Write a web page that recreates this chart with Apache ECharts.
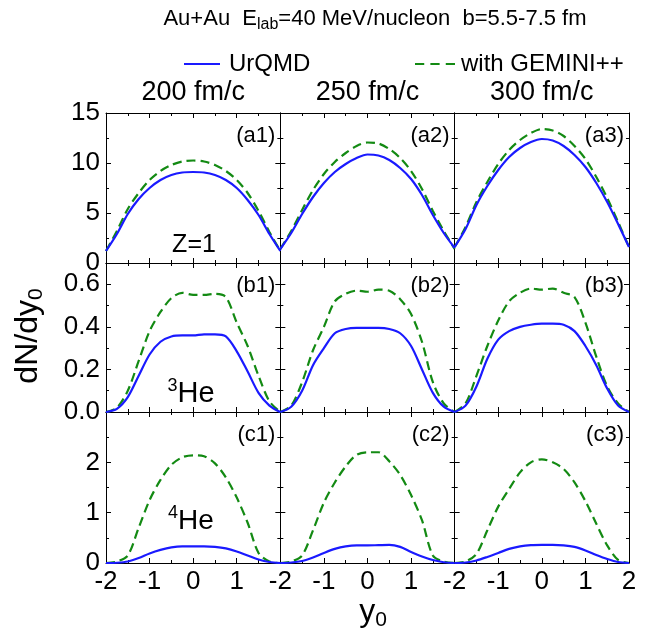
<!DOCTYPE html>
<html><head><meta charset="utf-8">
<script src="https://cdn.jsdelivr.net/npm/echarts@6/dist/echarts.min.js"></script>
<style>html,body{margin:0;padding:0;background:#fff}#c{width:650px;height:634px}</style>
</head><body><div id="c"></div>
<script>
// rapidity y0 sample points
const y0 = [-2,-1.75,-1.5,-1.25,-1,-0.75,-0.5,-0.25,0,0.25,0.5,0.75,1,1.25,1.5,1.75,2];
// Z=1
const urqmdA1  = [1.2,2.9,4.9,6.4,7.5,8.3,8.8,9.05,9.1,9.05,8.8,8.3,7.5,6.3,4.8,2.9,1.2];
const geminiA1 = [1.2,3.2,5.4,7.0,8.3,9.2,9.8,10.15,10.25,10.15,9.8,9.2,8.3,7.0,5.2,3.1,1.2];
const urqmdA2  = [1.4,3.0,4.9,6.6,8.0,9.1,9.9,10.5,10.85,10.75,10.3,9.5,8.4,6.8,4.8,3.0,1.5];
const geminiA2 = [1.4,3.2,5.3,7.3,8.9,10.1,11.0,11.7,12.05,11.95,11.4,10.5,9.2,7.4,5.2,3.2,1.4];
const urqmdA3  = [1.6,3.4,5.8,7.7,9.3,10.6,11.5,12.1,12.4,12.25,11.7,10.8,9.6,8.0,6.1,3.9,1.6];
const geminiA3 = [1.6,3.6,6.1,8.1,9.9,11.3,12.3,13.0,13.4,13.25,12.7,11.7,10.4,8.6,6.5,4.1,1.6];
// 3He
const urqmdB1  = [0,0.015,0.07,0.17,0.27,0.33,0.355,0.36,0.36,0.365,0.365,0.355,0.285,0.19,0.09,0.03,0];
const geminiB1 = [0,0.02,0.1,0.24,0.38,0.47,0.535,0.56,0.55,0.55,0.555,0.54,0.42,0.31,0.17,0.05,0];
const urqmdB2  = [0,0.025,0.1,0.22,0.3,0.37,0.39,0.395,0.395,0.395,0.39,0.37,0.31,0.2,0.09,0.025,0];
const geminiB2 = [0,0.03,0.14,0.29,0.4,0.52,0.555,0.57,0.565,0.575,0.57,0.53,0.46,0.33,0.14,0.04,0];
const urqmdB3  = [0,0.03,0.12,0.25,0.34,0.38,0.4,0.41,0.415,0.415,0.41,0.38,0.31,0.22,0.11,0.03,0];
const geminiB3 = [0,0.04,0.17,0.31,0.43,0.52,0.56,0.58,0.575,0.58,0.56,0.54,0.42,0.26,0.12,0.04,0];
// 4He
const urqmdC1  = [0,0.005,0.03,0.1,0.19,0.26,0.31,0.33,0.33,0.33,0.32,0.29,0.23,0.15,0.07,0.02,0];
const geminiC1 = [0,0.03,0.15,0.7,1.25,1.65,1.95,2.1,2.14,2.12,1.98,1.7,1.3,0.8,0.2,0.03,0];
const urqmdC2  = [0,0.01,0.04,0.11,0.2,0.28,0.33,0.35,0.35,0.355,0.36,0.32,0.22,0.13,0.06,0.015,0];
const geminiC2 = [0,0.03,0.15,0.65,1.2,1.6,1.92,2.15,2.2,2.2,2.02,1.75,1.35,0.85,0.15,0.03,0];
const urqmdC3  = [0,0.01,0.05,0.12,0.2,0.28,0.33,0.355,0.36,0.36,0.35,0.32,0.25,0.16,0.08,0.02,0];
const geminiC3 = [0,0.03,0.18,0.65,1.12,1.47,1.8,2.0,2.06,2.0,1.87,1.6,1.23,0.78,0.35,0.06,0];

const urqmdSets  = [[urqmdA1,urqmdA2,urqmdA3],[urqmdB1,urqmdB2,urqmdB3],[urqmdC1,urqmdC2,urqmdC3]];
const geminiSets = [[geminiA1,geminiA2,geminiA3],[geminiB1,geminiB2,geminiB3],[geminiC1,geminiC2,geminiC3]];

const rowMax = [15, 0.7, 3];
const rowInterval = [5, 0.2, 1];
const yTickLabels = [['0','5','10','15'], ['0.0','0.2','0.4','0.6'], ['0','1','2']];
const xTickLabels = ['-2','-1','0','1','2'];
const columnTitles = ['200 fm/c','250 fm/c','300 fm/c'];
const panelLabels = [['(a1)','(a2)','(a3)'],['(b1)','(b2)','(b3)'],['(c1)','(c2)','(c3)']];

const FONT = 'Liberation Sans, Arial, sans-serif';
const BLUE = '#1a1aff', GREEN = '#138a13';
const gridLeft = 106, gridW = 174.33;
const gridTops = [113, 263, 412], gridHs = [150, 149, 151];

const grids = [], xAxes = [], yAxes = [], series = [], graphics = [];
for (let r = 0; r < 3; r++) {
  for (let c = 0; c < 3; c++) {
    const g = r * 3 + c;
    grids.push({left: gridLeft + c * gridW, top: gridTops[r], width: gridW, height: gridHs[r], containLabel: false});
    const tick = {show: true, inside: true, length: 5, lineStyle: {color: '#000', width: 1}};
    const minor = {show: true, splitNumber: 2, length: 3, lineStyle: {color: '#000', width: 1}};
    const line = {show: true, onZero: false, lineStyle: {color: '#000', width: 1}};
    xAxes.push({type: 'value', gridIndex: g, position: 'bottom', min: -2, max: 2, interval: 1,
      axisLine: line, axisTick: tick, minorTick: minor, splitLine: {show: false},
      axisLabel: {show: r === 2, fontSize: 26, color: '#000', fontFamily: FONT, margin: 6,
        formatter: v => {
          const s = String(v);
          if (c < 2 && v === 2) return '';
          return xTickLabels.includes(s) ? s : '';
        }}});
    xAxes.push({type: 'value', gridIndex: g, position: 'top', min: -2, max: 2, interval: 1,
      axisLine: line, axisTick: tick, minorTick: minor, splitLine: {show: false}, axisLabel: {show: false}});
    yAxes.push({type: 'value', gridIndex: g, position: 'left', min: 0, max: rowMax[r], interval: rowInterval[r],
      axisLine: line, axisTick: tick, minorTick: minor, splitLine: {show: false},
      axisLabel: {show: c === 0, fontSize: 26, color: '#000', fontFamily: FONT, margin: 6,
        formatter: v => {
          const s = r === 1 ? v.toFixed(1) : String(Math.round(v));
          return yTickLabels[r].includes(s) && Math.abs(v - Math.round(v / rowInterval[r]) * rowInterval[r]) < 1e-6 ? s : '';
        }}});
    yAxes.push({type: 'value', gridIndex: g, position: 'right', min: 0, max: rowMax[r], interval: rowInterval[r],
      axisLine: line, axisTick: tick, minorTick: minor, splitLine: {show: false}, axisLabel: {show: false}});
    series.push({name: 'UrQMD', type: 'line', xAxisIndex: 2 * g, yAxisIndex: 2 * g,
      data: y0.map((x, i) => [x, urqmdSets[r][c][i]]), symbol: 'none', smooth: 0.3,
      lineStyle: {color: BLUE, width: 2.2}, itemStyle: {color: BLUE}, z: 3});
    series.push({name: 'with GEMINI++', type: 'line', xAxisIndex: 2 * g, yAxisIndex: 2 * g,
      data: y0.map((x, i) => [x, geminiSets[r][c][i]]), symbol: 'none', smooth: 0.3,
      lineStyle: {color: GREEN, width: 2.2, type: [9, 5]}, itemStyle: {color: GREEN}, z: 2});
    graphics.push({type: 'text', x: gridLeft + (c + 1) * gridW - 5, y: gridTops[r] + 23,
      style: {text: panelLabels[r][c], fill: '#000', font: '22px ' + FONT, align: 'right', verticalAlign: 'middle'}});
  }
}
for (let c = 0; c < 3; c++) {
  graphics.push({type: 'text', x: gridLeft + (c + 0.5) * gridW, y: 93,
    style: {text: columnTitles[c], fill: '#000', font: '27px ' + FONT, align: 'center', verticalAlign: 'middle'}});
}
graphics.push({type: 'text', x: 375, y: 19, style: {
  text: '{a|Au+Au  E}{s|lab}{a|=40 MeV/nucleon  b=5.5-7.5 fm}', align: 'center', verticalAlign: 'middle', fill: '#000',
  rich: {a: {fontSize: 22, fontFamily: FONT, lineHeight: 28, fill: '#000'},
         s: {fontSize: 16, fontFamily: FONT, lineHeight: 18, verticalAlign: 'bottom', fill: '#000'}}}});
graphics.push({type: 'text', x: 194, y: 245, style: {text: 'Z=1', fill: '#000', font: '25px ' + FONT, align: 'center', verticalAlign: 'middle'}});
graphics.push({type: 'text', x: 191, y: 394, style: {
  text: '{p|3}{m|He}', align: 'center', verticalAlign: 'middle', fill: '#000',
  rich: {p: {fontSize: 18, fontFamily: FONT, lineHeight: 20, verticalAlign: 'top', fill: '#000'},
         m: {fontSize: 29, fontFamily: FONT, lineHeight: 34, fill: '#000'}}}});
graphics.push({type: 'text', x: 191, y: 521, style: {
  text: '{p|4}{m|He}', align: 'center', verticalAlign: 'middle', fill: '#000',
  rich: {p: {fontSize: 18, fontFamily: FONT, lineHeight: 20, verticalAlign: 'top', fill: '#000'},
         m: {fontSize: 28, fontFamily: FONT, lineHeight: 34, fill: '#000'}}}});
graphics.push({type: 'text', x: 28, y: 336, rotation: Math.PI / 2, style: {
  text: '{a|dN/dy}{s|0}', align: 'center', verticalAlign: 'middle', fill: '#000',
  rich: {a: {fontSize: 32, fontFamily: FONT, lineHeight: 38, fill: '#000'},
         s: {fontSize: 21, fontFamily: FONT, lineHeight: 24, verticalAlign: 'bottom', fill: '#000'}}}});
graphics.push({type: 'text', x: 373, y: 612, style: {
  text: '{a|y}{s|0}', align: 'center', verticalAlign: 'middle', fill: '#000',
  rich: {a: {fontSize: 32, fontFamily: FONT, lineHeight: 38, fill: '#000'},
         s: {fontSize: 21, fontFamily: FONT, lineHeight: 24, verticalAlign: 'bottom', fill: '#000'}}}});

const chart = echarts.init(document.getElementById('c'), null, {renderer: 'canvas'});
chart.setOption({
  animation: false,
  backgroundColor: '#fff',
  grid: grids, xAxis: xAxes, yAxis: yAxes, series: series,
  legend: [
    {data: [{name: 'UrQMD', icon: 'path://M0,0H36V2H0Z'}], left: 179, top: 47, itemWidth: 36, itemHeight: 2.2,
     textStyle: {fontSize: 24, color: '#000', fontFamily: FONT, padding: [0, 0, 0, 4]}, selectedMode: false},
    {data: [{name: 'with GEMINI++', icon: 'path://M0,0H9V2H0Z M15,0H24V2H15Z M30,0H39V2H30Z'}], left: 410, top: 47, itemWidth: 40, itemHeight: 2.2,
     textStyle: {fontSize: 24, color: '#000', fontFamily: FONT, padding: [0, 0, 0, 1]}, selectedMode: false}
  ],
  graphic: graphics
});
</script></body></html>
